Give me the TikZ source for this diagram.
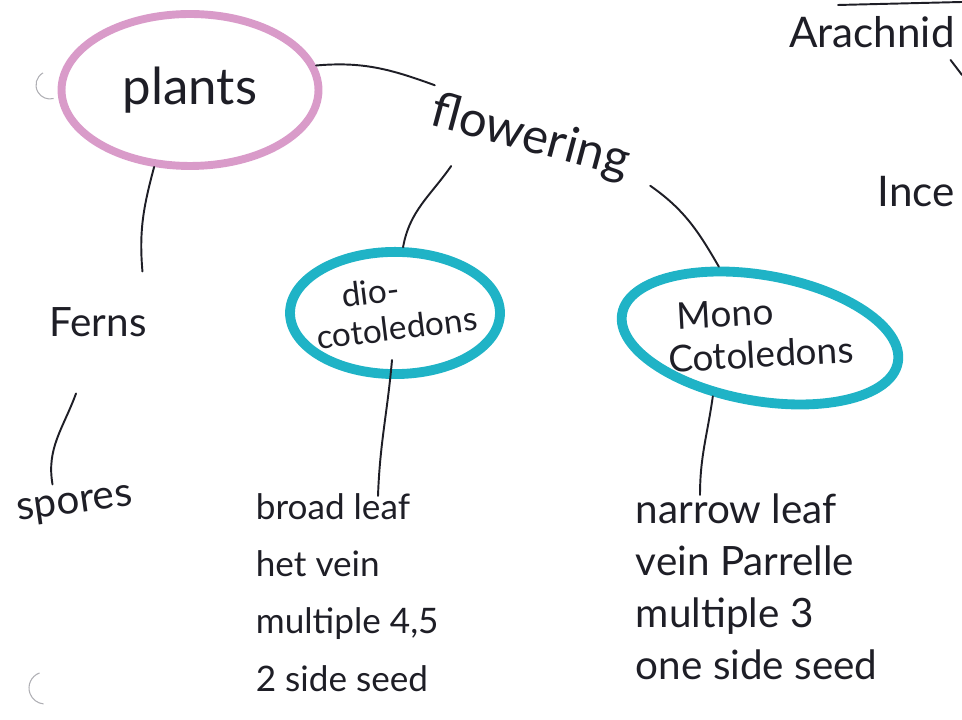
\documentclass[tikz,border=0pt]{standalone}
\usepackage{fontspec}
\setmainfont{Lato}
\usepackage{graphicx}
\usepackage{tikz}
\usetikzlibrary{shapes.geometric,calc}
\definecolor{pinkring}{RGB}{217,155,201}
\definecolor{cyanring}{RGB}{31,179,198}
\definecolor{ink}{RGB}{30,30,38}
\definecolor{smudge}{RGB}{175,175,180}

\begin{document}
\begin{tikzpicture}[x=0.02cm, y=0.02cm,
    word/.style={text=ink, inner sep=2pt, align=left, font=\fontsize{22}{29}\selectfont},
    bigword/.style={word, font=\fontsize{28}{34}\selectfont},
    ring/.style={ellipse, inner sep=0pt, text=ink},
    pinkring/.style={ring, draw=pinkring, line width=4.5pt},
    cyanring/.style={ring, draw=cyanring, line width=5.6pt},
    link/.style={draw=ink, line width=1.1pt, line cap=round}
]
\useasboundingbox (0,0) rectangle (962,719);
\clip (0,0) rectangle (962,719);

\node[pinkring, minimum width=5.14cm, minimum height=3.04cm, font=\fontsize{29}{34}\selectfont] (plants) at (190,629) {plants};
\node[bigword, rotate=-15] (flowering) at (530,581) {flowering};
\node[word, font=\fontsize{24}{30}\selectfont] (arachnid) at (872,687) {Arachnid};
\node[word, anchor=west, font=\fontsize{24}{30}\selectfont] (ince) at (874,527) {Ince};
\node[word, font=\fontsize{23}{30}\selectfont] (ferns) at (98,397) {Ferns};
\node[word, rotate=8, font=\fontsize{23}{30}\selectfont] (spores) at (75,213) {spores};

\node[cyanring, inner xsep=-0.3cm, inner ysep=-0.1cm, minimum width=4.2cm, minimum height=2.4cm, font=\fontsize{19}{22}\selectfont] (dio) at (395,406)
    {\rotatebox{7}{\begin{tabular}{@{}l@{}}\hspace{0.9em}dio-\\cotoledons\end{tabular}}};
\node[cyanring, rotate=-10, inner xsep=-0.3cm, inner ysep=-0.35cm, minimum width=5.6cm, minimum height=2.4cm, font=\fontsize{21}{24}\selectfont] (mono) at (760,381)
    {\rotatebox{13}{\begin{tabular}{@{}l@{}}\hspace{0.3em}Mono\\Cotoledons\end{tabular}}};

\node[word, anchor=north west, font=\fontsize{20}{32.5}\selectfont] (broad) at (252,229) {broad leaf\\het vein\\multiple 4,5\\2 side seed};
\node[word, anchor=north west, font=\fontsize{23}{29.5}\selectfont] (narrow) at (632,229) {narrow leaf\\vein Parrelle\\multiple 3\\one side seed};

\coordinate (topa) at (838,714);
\coordinate (topb) at (962,717);
\coordinate (arout) at (962,644);

\draw[link] (plants.11) to[out=5,in=160] (flowering.north west);
\draw[link] (plants.245) to[out=255,in=95] ($(ferns.north east)+(-8,32)$);
\draw[link] ($(ferns.south)+(-22,-53)$) to[out=250,in=100] ($(spores.north)+(-20,4)$);
\draw[link] ($(flowering.south west)+(30,-30)$) to[out=235,in=80] (dio.83);
\draw[link] ($(flowering.south east)+(25,5)$) to[out=-35,in=120] (mono.130);
\draw[link] ($(dio.south)+(-3,19)$) to[out=265,in=88] ($(broad.north west)+(126,-6)$);
\draw[link] (mono.241) to[out=262,in=90] ($(narrow.north west)+(68,-5)$);
\draw[link] (topa) -- (topb);
\draw[link] ($(arachnid.east)+(-8,-28)$) -- (arout);

\draw[smudge, line width=0.6pt] (50,634) ++(120:14) arc (120:285:14);
\draw[smudge, line width=0.6pt] (45,31) ++(110:16) arc (110:265:16);
\end{tikzpicture}
\end{document}
